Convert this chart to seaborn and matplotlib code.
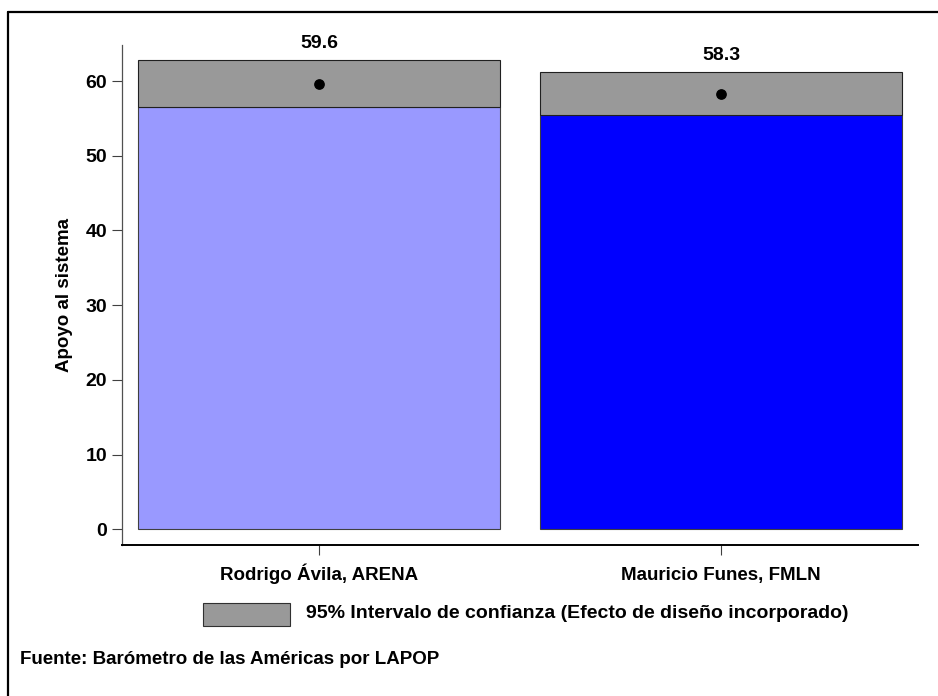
import matplotlib
matplotlib.use("Agg")
import matplotlib.pyplot as plt
from matplotlib.patches import Rectangle
from matplotlib.lines import Line2D
import seaborn as sns
import pandas as pd

# Data
candidatos = ["Rodrigo Ávila, ARENA", "Mauricio Funes, FMLN"]
media = [59.6, 58.3]
ic_inf = [56.5, 55.4]
ic_sup = [62.8, 61.2]
colores = ["#9999FF", "#0000FF"]

df = pd.DataFrame({"Candidato": candidatos, "Media": media,
                   "Inf": ic_inf, "Sup": ic_sup})

sns.set_theme(style="ticks")
plt.rcParams["font.family"] = ["Liberation Sans", "DejaVu Sans"]
plt.rcParams["font.weight"] = "bold"
plt.rcParams["text.color"] = "black"
plt.rcParams["axes.labelcolor"] = "black"
plt.rcParams["xtick.color"] = "black"
plt.rcParams["ytick.color"] = "black"

fig = plt.figure(figsize=(9.38, 6.96), dpi=100)
ax = fig.add_axes([0.130, 0.217, 0.849, 0.718])

# coloured bars up to the lower CI bound
sns.barplot(data=df, x="Candidato", y="Inf", hue="Candidato", palette=colores,
            width=0.9, edgecolor="#404040", linewidth=0.8, saturation=1,
            legend=False, ax=ax)
# grey CI blocks on top
sns.barplot(data=df, x="Candidato", y=df["Sup"] - df["Inf"], bottom=df["Inf"],
            color="#999999", width=0.9, edgecolor="#202020", linewidth=0.8,
            saturation=1, ax=ax)
# means as dots
ax.scatter(range(len(media)), media, color="black", s=45, zorder=5)
for i, (m, s) in enumerate(zip(media, ic_sup)):
    ax.text(i, s + 1.1, f"{m:.1f}", ha="center", va="bottom",
            fontsize=14, fontweight="bold")

ax.set_xlim(-0.49, 1.49)
ax.set_ylim(-2.1, 64.8)
ax.set_yticks([0, 10, 20, 30, 40, 50, 60])
ax.set_xlabel("")
ax.set_ylabel("Apoyo al sistema", fontsize=13.5, fontweight="bold", labelpad=9)
ax.tick_params(axis="y", labelsize=14, length=7, width=0.8, color="#404040")
ax.tick_params(axis="x", labelsize=13.5, length=7, width=0.8, color="#404040", pad=18)
ax.spines["top"].set_visible(False)
ax.spines["right"].set_visible(False)
ax.spines["left"].set_color("#505050")
ax.spines["left"].set_linewidth(0.9)
ax.spines["bottom"].set_linewidth(1.4)
ax.spines["bottom"].set_color("black")
for lab in ax.get_yticklabels():
    lab.set_fontweight("bold")
for lab in ax.get_xticklabels():
    lab.set_fontweight("bold")
    lab.set_verticalalignment("baseline")

# legend
fig.patches.append(Rectangle((203 / 938, 1 - 626 / 696), 87 / 938, 23 / 696,
                             transform=fig.transFigure, facecolor="#999999",
                             edgecolor="#303030", linewidth=0.8))
fig.text(306 / 938, 1 - 614 / 696,
         "95% Intervalo de confianza (Efecto de diseño incorporado)",
         fontsize=14, fontweight="bold", va="center", ha="left")
fig.text(20 / 938, 1 - 660 / 696, "Fuente: Barómetro de las Américas por LAPOP",
         fontsize=13.5, fontweight="bold", va="center", ha="left")

# partial frame (top and left)
fig.add_artist(Line2D([8 / 938, 1.0], [1 - 12 / 696] * 2, color="black",
                      linewidth=1.6, transform=fig.transFigure))
fig.add_artist(Line2D([8 / 938] * 2, [0.0, 1 - 12 / 696], color="black",
                      linewidth=1.6, transform=fig.transFigure))

fig.savefig("out.png", dpi=100)
